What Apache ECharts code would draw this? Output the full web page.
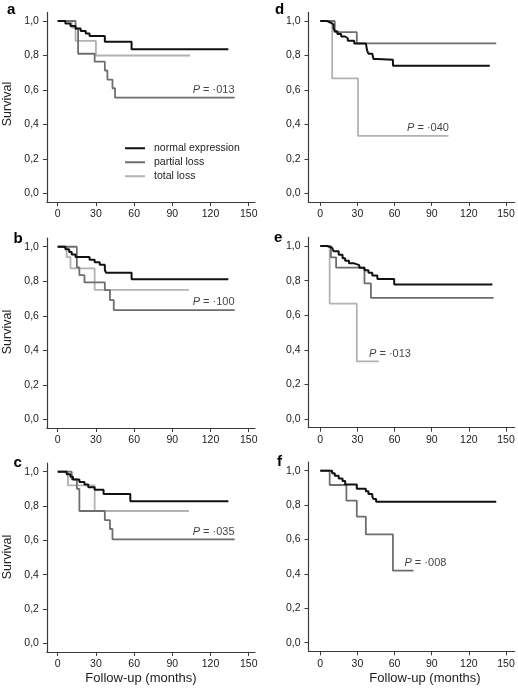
<!DOCTYPE html>
<html><head><meta charset="utf-8">
<script src="https://cdn.jsdelivr.net/npm/echarts@6/dist/echarts.min.js"></script>
<style>html,body{margin:0;padding:0;background:#fff}#c{width:518px;height:692px}</style>
</head><body><div id="c"></div>
<script>
// ---------- data ----------
const xTicks = [0, 30, 60, 90, 120, 150];
const yTicks = [0, 0.2, 0.4, 0.6, 0.8, 1.0];
const seriesNames = ['normal expression', 'partial loss', 'total loss'];
const panelLetters = ['a', 'b', 'c', 'd', 'e', 'f'];

const aNormal  = [[0,1],[6,0.986],[10,0.971],[14,0.957],[18,0.942],[22,0.928],[25,0.913],[37,0.88],[58,0.836],[134,0.836]];
const aPartial = [[0,1],[14,0.955],[16,0.81],[29,0.764],[37,0.713],[39,0.66],[43,0.61],[45,0.555],[139,0.555]];
const aTotal   = [[0,1],[11,0.96],[14,0.885],[30,0.80],[104,0.80]];

const bNormal  = [[0,1],[6,0.985],[9,0.97],[11,0.955],[14,0.94],[25,0.925],[29,0.91],[33,0.895],[37,0.865],[38,0.849],[58,0.811],[134,0.811]];
const bPartial = [[0,1],[15,0.88],[17,0.835],[21,0.793],[37,0.749],[41,0.691],[44,0.633],[139,0.633]];
const bTotal   = [[0,1],[7,0.94],[10,0.875],[29,0.75],[103,0.75]];

const cNormal  = [[0,1],[7,0.985],[10,0.97],[12,0.955],[17,0.94],[21,0.925],[24,0.91],[29,0.895],[36,0.87],[57,0.827],[134,0.827]];
const cPartial = [[0,1],[11,0.955],[15,0.90],[17,0.771],[37,0.718],[41,0.666],[43,0.606],[139,0.606]];
const cTotal   = [[0,1],[8,0.92],[29,0.771],[103,0.771]];

const dNormal  = [[0,1],[5.5,0.99],[8.6,0.98],[10.7,0.96],[11.7,0.94],[13.8,0.925],[16.9,0.91],[20.1,0.9],[22.2,0.885],[27.4,0.87],[36.8,0.86],[37.8,0.83],[38.9,0.81],[42,0.80],[43,0.78],[46.1,0.775],[58.7,0.741],[136.9,0.741]];
const dPartial = [[0,1],[11.7,0.935],[29.5,0.87],[142.1,0.87]];
const dTotal   = [[0,1],[9.6,0.667],[30.5,0.333],[103.5,0.333]];

const eNormal  = [[0,1],[5.5,0.99],[9.6,0.98],[10.7,0.97],[14.9,0.95],[18,0.93],[20.1,0.915],[23.2,0.9],[27.4,0.89],[31.5,0.875],[35.7,0.86],[38.9,0.845],[42,0.83],[46.1,0.81],[59.7,0.778],[139,0.778]];
const ePartial = [[0,1],[8.6,0.935],[12.8,0.875],[35.7,0.784],[40.9,0.701],[140,0.701]];
const eTotal   = [[0,1],[7.6,0.667],[29.5,0.333],[47.2,0.333]];

const fNormal  = [[0,1],[9.6,0.985],[11.7,0.97],[14.9,0.955],[18,0.94],[20.1,0.92],[29.5,0.895],[36.8,0.88],[38.9,0.865],[42,0.85],[43,0.835],[45.1,0.82],[142.1,0.82]];
const fPartial = [[0,1],[7.6,0.917],[21.1,0.826],[29.5,0.733],[36.8,0.63],[58.7,0.419],[75.3,0.419]];

const pValues = ['·013', '·100', '·035', '·040', '·013', '·008'];
const pPositions = [[106,0.60],[106,0.681],[106,0.65],[70.1,0.381],[39.4,0.374],[68,0.461]];

const panelSeries = [
  [aNormal, aPartial, aTotal],
  [bNormal, bPartial, bTotal],
  [cNormal, cPartial, cTotal],
  [dNormal, dPartial, dTotal],
  [eNormal, ePartial, eTotal],
  [fNormal, fPartial, null]
];

// ---------- layout / style ----------
const FONT = '"Liberation Sans", Arial, Helvetica, sans-serif';
const colors = ['#111111', '#6e6e6e', '#b2b2b2'];
const widths = [2, 1.8, 1.8];
const layout = [
  {left:46.9,  top:12.4,  width:208.2, height:189.6, xmin:-8.5, xmax:155},
  {left:46.9,  top:238.1, width:208.2, height:189.9, xmin:-8.5, xmax:155},
  {left:46.9,  top:463.1, width:208.2, height:188.8, xmin:-8.5, xmax:155},
  {left:308.5, top:12.4,  width:206.2, height:189.5, xmin:-9.5, xmax:157},
  {left:308.5, top:237.4, width:206.2, height:190.3, xmin:-9.5, xmax:157},
  {left:308.5, top:462.1, width:206.2, height:189.2, xmin:-9.5, xmax:157}
];
const axisColor = '#3a3a3a';
const labelColor = '#1a1a1a';

const grid = [], xAxis = [], yAxis = [], series = [];
layout.forEach((g, i) => {
  grid.push({left:g.left, top:g.top, width:g.width, height:g.height, containLabel:false});
  xAxis.push({
    type:'value', gridIndex:i, min:g.xmin, max:g.xmax,
    axisLine:{show:true, onZero:false, lineStyle:{color:axisColor, width:1.2}},
    axisTick:{show:true, length:4, customValues:xTicks, lineStyle:{color:axisColor, width:1}},
    axisLabel:{show:true, customValues:xTicks, margin:7, color:labelColor, fontFamily:FONT, fontSize:10.5},
    splitLine:{show:false}
  });
  yAxis.push({
    type:'value', gridIndex:i, min:-0.05, max:1.05,
    axisLine:{show:true, onZero:false, lineStyle:{color:axisColor, width:1.2}},
    axisTick:{show:true, length:4, customValues:yTicks, lineStyle:{color:axisColor, width:1}},
    axisLabel:{show:true, customValues:yTicks, margin:8, color:labelColor, fontFamily:FONT, fontSize:10.5,
      formatter:v => v.toFixed(1).replace('.', ',')},
    splitLine:{show:false}
  });
  panelSeries[i].forEach((d, k) => {
    if (!d) return;
    series.push({
      type:'line', name:seriesNames[k], xAxisIndex:i, yAxisIndex:i, data:d,
      step:'end', symbol:'none', showSymbol:false,
      lineStyle:{color:colors[k], width:widths[k]}, itemStyle:{color:colors[k]},
      z: 3 - k, silent:true
    });
  });
  series.push({
    type:'scatter', xAxisIndex:i, yAxisIndex:i, symbolSize:0, silent:true,
    data:[pPositions[i]],
    label:{show:true, position:[0,0], align:'left', verticalAlign:'middle',
      formatter:'{i|P} = ' + pValues[i],
      fontFamily:FONT, fontSize:11, color:'#111',
      rich:{i:{fontStyle:'italic', fontFamily:FONT, fontSize:11, color:'#111'}}}
  });
});

const graphic = [];
const letterPos = [[7,10],[13.5,239],[13.5,463],[275,10],[274,238],[277,462]];
panelLetters.forEach((l, i) => graphic.push({
  type:'text', left:letterPos[i][0], top:letterPos[i][1] - 8,
  style:{text:l, fontFamily:FONT, fontWeight:'bold', fontSize:15, fill:'#000'}
}));
[[7.5,104],[7.5,332],[7.5,557]].forEach(p => graphic.push({
  type:'text', x:p[0], y:p[1], rotation:Math.PI/2,
  style:{text:'Survival', fontFamily:FONT, fontSize:12.5, fill:'#222', align:'center', verticalAlign:'middle'}
}));
[[141,678],[425,678]].forEach(p => graphic.push({
  type:'text', x:p[0], y:p[1],
  style:{text:'Follow-up (months)', fontFamily:FONT, fontSize:13, fill:'#222', align:'center', verticalAlign:'middle'}
}));

const chart = echarts.init(document.getElementById('c'), null, {renderer:'canvas'});
chart.setOption({
  animation:false,
  backgroundColor:'#fff',
  grid, xAxis, yAxis, series, graphic,
  legend:{
    data:seriesNames.map(n => ({name:n, icon:'rect'})),
    orient:'vertical', left:125, top:142, padding:0,
    itemWidth:20, itemHeight:2, itemGap:1.5,
    selectedMode:false,
    textStyle:{fontFamily:FONT, fontSize:10.5, color:'#222', padding:[0,0,0,4], lineHeight:12.5}
  }
});
</script></body></html>
